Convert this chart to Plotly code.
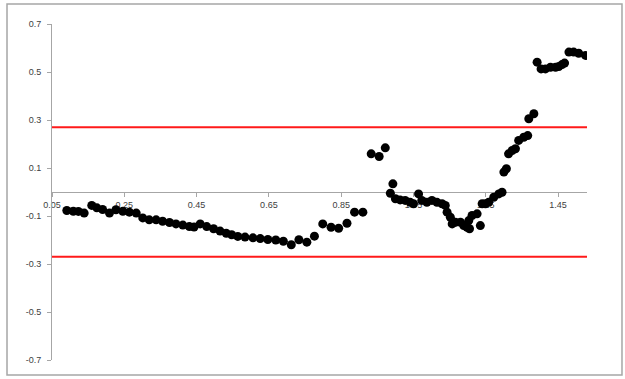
import plotly.graph_objects as go

# Data
x_vals = [0.091, 0.109, 0.123, 0.139, 0.160, 0.174, 0.190, 0.209, 0.227, 0.246,
          0.264, 0.283, 0.301, 0.319, 0.338, 0.356, 0.375, 0.393, 0.412, 0.430,
          0.443, 0.460, 0.478, 0.497, 0.515, 0.532, 0.547, 0.564, 0.584, 0.606,
          0.626, 0.647, 0.669, 0.690, 0.712, 0.733, 0.755, 0.776, 0.799, 0.822,
          0.843, 0.866, 0.887, 0.910, 0.933, 0.955, 0.972, 0.986, 0.993, 1.000,
          1.013, 1.027, 1.041, 1.050, 1.064, 1.073, 1.087, 1.101, 1.115, 1.129,
          1.138, 1.143, 1.152, 1.157, 1.166, 1.180, 1.189, 1.198, 1.203, 1.205,
          1.212, 1.226, 1.235, 1.240, 1.249, 1.258, 1.272, 1.286, 1.295, 1.300,
          1.307, 1.313, 1.323, 1.332, 1.341, 1.355, 1.366, 1.369, 1.383, 1.392,
          1.403, 1.415, 1.429, 1.443, 1.452, 1.461, 1.468, 1.480, 1.493, 1.507,
          1.526]
y_vals = [-0.077, -0.080, -0.081, -0.088, -0.056, -0.066, -0.073, -0.088, -0.074, -0.080,
          -0.084, -0.088, -0.108, -0.116, -0.116, -0.122, -0.127, -0.133, -0.138, -0.144,
          -0.146, -0.133, -0.144, -0.153, -0.163, -0.172, -0.178, -0.185, -0.188, -0.191,
          -0.194, -0.198, -0.200, -0.205, -0.220, -0.199, -0.209, -0.184, -0.133, -0.147,
          -0.151, -0.130, -0.084, -0.084, 0.159, 0.148, 0.184, -0.005, 0.034, -0.028,
          -0.033, -0.035, -0.043, -0.049, -0.008, -0.035, -0.043, -0.035, -0.043, -0.049,
          -0.056, -0.084, -0.105, -0.133, -0.126, -0.126, -0.140, -0.147, -0.119, -0.153,
          -0.098, -0.091, -0.140, -0.049, -0.049, -0.043, -0.022, -0.008, -0.001, 0.083,
          0.097, 0.159, 0.173, 0.180, 0.215, 0.228, 0.235, 0.305, 0.326, 0.541,
          0.513, 0.513, 0.520, 0.520, 0.523, 0.531, 0.537, 0.583, 0.583, 0.578,
          0.569]

limit_x = [0.05, 1.53]
upper_limit = [0.27, 0.27]
lower_limit = [-0.27, -0.27]

x_ticks = [0.05, 0.25, 0.45, 0.65, 0.85, 1.05, 1.25, 1.45]
x_tick_text = ["0.05", "0.25", "0.45", "0.65", "0.85", "1.05", "1.25", "1.45"]
y_ticks = [0.7, 0.5, 0.3, 0.1, -0.1, -0.3, -0.5, -0.7]
y_tick_text = ["0.7", "0.5", "0.3", "0.1", "-0.1", "-0.3", "-0.5", "-0.7"]

fig = go.Figure()
fig.add_trace(go.Scatter(x=limit_x, y=upper_limit, mode="lines",
                         line=dict(color="#ff1a1a", width=2), hoverinfo="skip"))
fig.add_trace(go.Scatter(x=limit_x, y=lower_limit, mode="lines",
                         line=dict(color="#ff1a1a", width=2), hoverinfo="skip"))
fig.add_trace(go.Scatter(x=x_vals, y=y_vals, mode="markers",
                         marker=dict(color="black", size=9, line=dict(width=0))))

axis_font = dict(family="Liberation Sans, Arial, sans-serif", size=9, color="#404040")

fig.update_layout(
    width=625, height=379,
    margin=dict(l=52, r=38, t=24, b=19, pad=0),
    paper_bgcolor="white", plot_bgcolor="white",
    showlegend=False,
    xaxis=dict(range=[0.05, 1.53], anchor="free", position=0.5,
               tickvals=x_ticks, ticktext=x_tick_text,
               showline=True, linecolor="#a6a6a6", linewidth=1,
               ticks="outside", ticklen=4, tickcolor="#a6a6a6",
               showgrid=False, zeroline=False, tickfont=axis_font,
               layer="below traces"),
    yaxis=dict(range=[-0.7, 0.7], tickvals=y_ticks, ticktext=y_tick_text,
               showline=True, linecolor="#a6a6a6", linewidth=1,
               ticks="outside", ticklen=4, tickcolor="#a6a6a6",
               showgrid=False, zeroline=False, tickfont=axis_font,
               ticklabelstandoff=4),
    shapes=[dict(type="rect", xref="paper", yref="paper",
                 x0=-0.0841, x1=1.0654, y0=-0.0446, y1=1.0595,
                 line=dict(color="#a6a6a6", width=1.5), fillcolor="rgba(0,0,0,0)")],
)

fig.write_html("out.html",
               config={"displayModeBar": False},
               post_script="document.body.style.margin='0';document.body.style.overflow='hidden';")
